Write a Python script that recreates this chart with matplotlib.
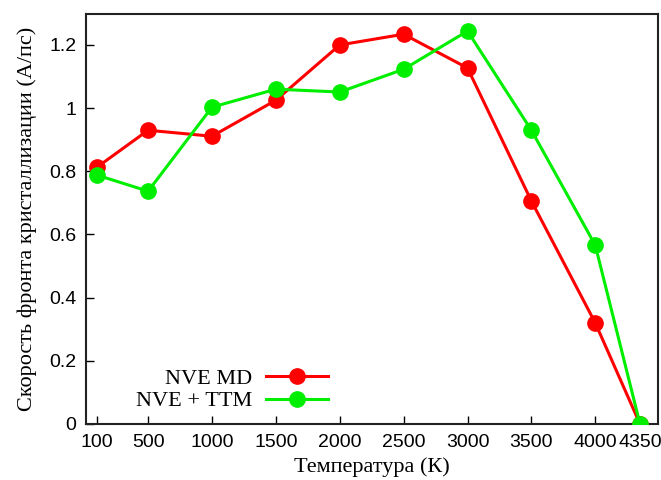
import matplotlib.pyplot as plt

# temperature points (K) and crystallization front speeds
temps = [100, 500, 1000, 1500, 2000, 2500, 3000, 3500, 4000, 4350]
nve_md = [0.813, 0.930, 0.911, 1.025, 1.200, 1.234, 1.127, 0.706, 0.320, 0.0]
nve_ttm = [0.788, 0.737, 1.003, 1.060, 1.051, 1.123, 1.244, 0.930, 0.566, 0.0]
yticks = [0, 0.2, 0.4, 0.6, 0.8, 1, 1.2]
ytick_labels = ['0', '0.2', '0.4', '0.6', '0.8', '1', '1.2']

serif = 'Liberation Serif'
sans = 'Liberation Sans'

fig = plt.figure(figsize=(6.61, 4.80), dpi=100)
ax = fig.add_axes([86/661, 56/480, 572/661, 410/480])

ax.plot(temps, nve_md, color='#ff0000', lw=2.2, marker='o', ms=11,
        label='NVE MD', zorder=3)
ax.plot(temps, nve_ttm, color='#00ee00', lw=2.2, marker='o', ms=11,
        label='NVE + TTM', zorder=4)

ax.set_xlim(14, 4491)
ax.set_ylim(0, 1.298)
ax.set_xticks(temps)
ax.set_xticklabels([str(t) for t in temps], family=sans, fontsize=14)
ax.set_yticks(yticks)
ax.set_yticklabels(ytick_labels, family=sans, fontsize=14)
ax.tick_params(direction='in', length=6, width=1, top=False, right=False, pad=7)

for s in ax.spines.values():
    s.set_linewidth(1.5)
    s.set_color('#222222')

ax.set_xlabel('Температура (К)', family=serif, fontsize=16, labelpad=5)
ax.set_ylabel('Скорость фронта кристаллизации (A/пс)', family=serif,
              fontsize=16, labelpad=9)

ax.legend(loc='upper right', bbox_to_anchor=(328/661, 1 - 368/480),
          bbox_transform=fig.transFigure, frameon=False, markerfirst=False,
          prop={'family': serif, 'size': 16}, handlelength=2.8,
          handletextpad=0.6, borderpad=0, borderaxespad=0, labelspacing=0.1)

fig.savefig('out.png', dpi=100)
